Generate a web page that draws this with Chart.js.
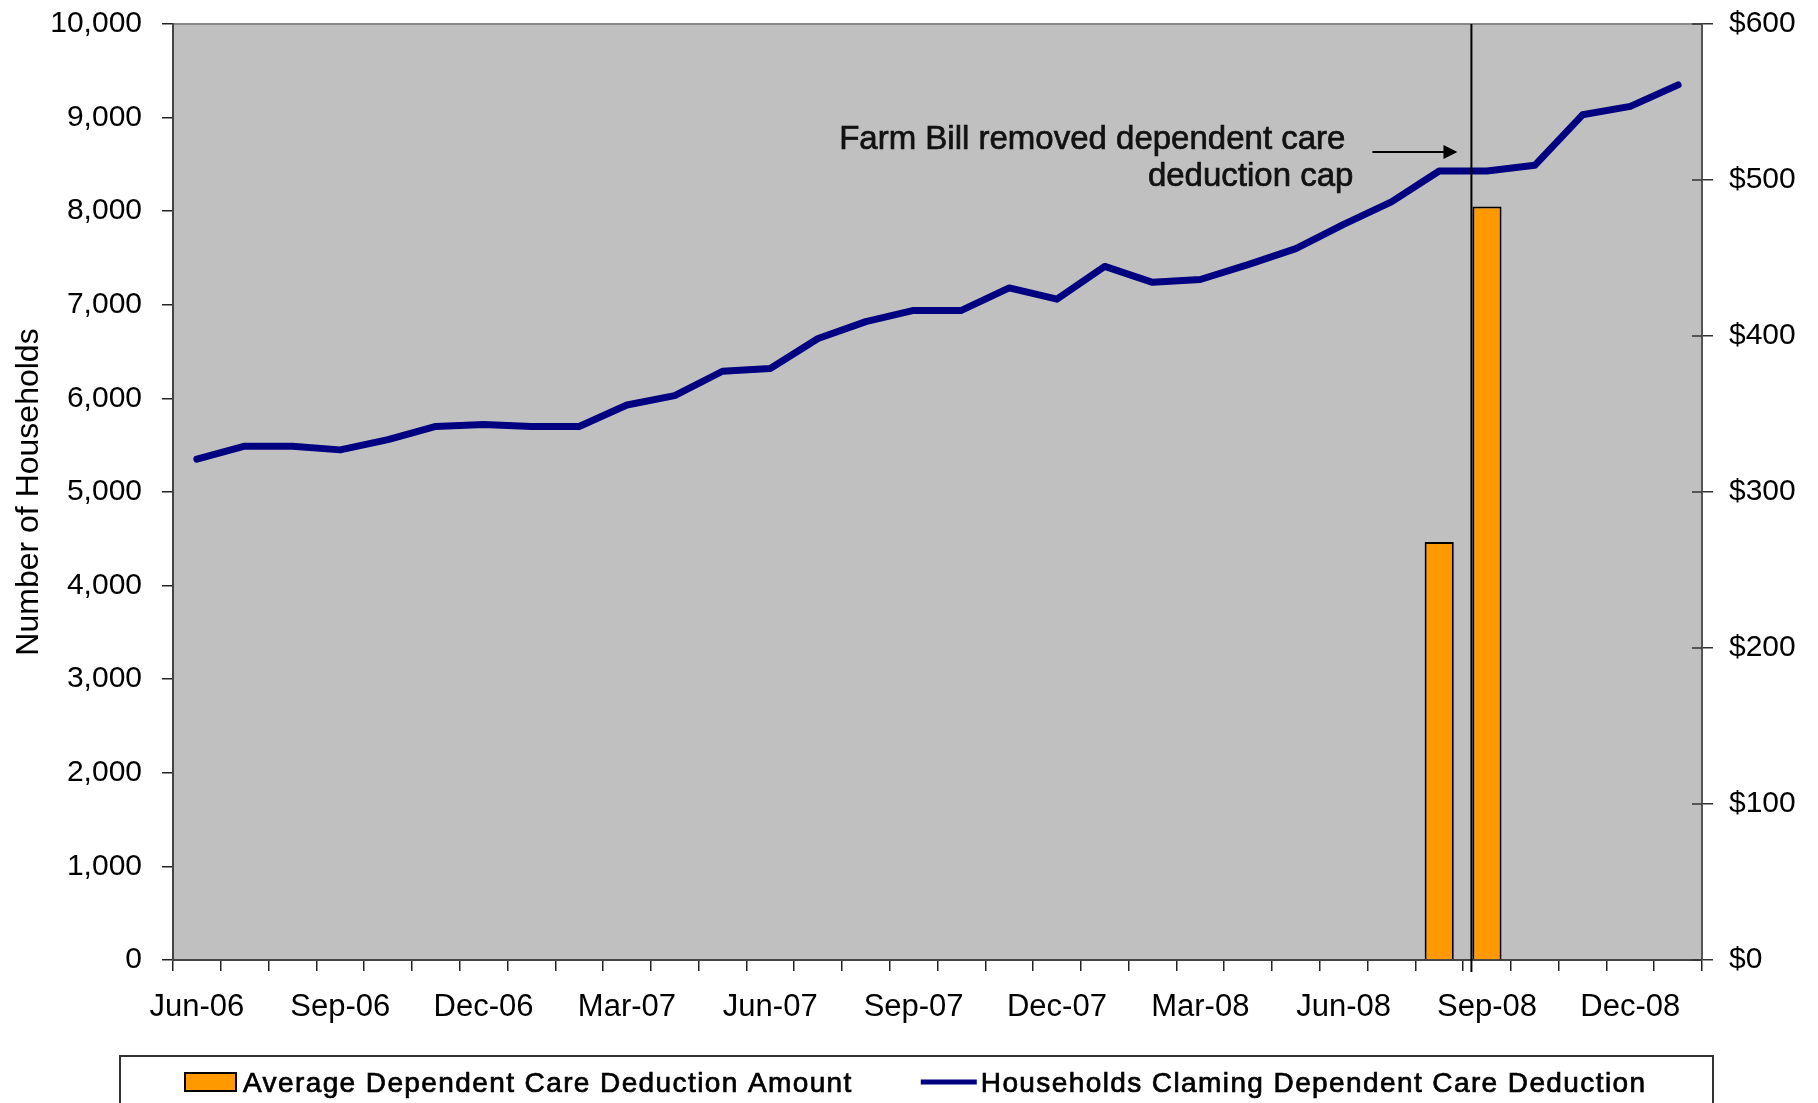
<!DOCTYPE html>
<html>
<head>
<script src="https://cdn.jsdelivr.net/npm/chart.js@4"></script>
<style>
  body { margin: 0; background: #fff; }
</style>
</head>
<body>
<canvas id="myChart" width="1818" height="1103"></canvas>
<script>
var months = ['Jun-06','Jul-06','Aug-06','Sep-06','Oct-06','Nov-06','Dec-06',
              'Jan-07','Feb-07','Mar-07','Apr-07','May-07','Jun-07','Jul-07','Aug-07','Sep-07','Oct-07','Nov-07','Dec-07',
              'Jan-08','Feb-08','Mar-08','Apr-08','May-08','Jun-08','Jul-08','Aug-08','Sep-08','Oct-08','Nov-08','Dec-08',
              'Jan-09'];
var households = [5350, 5490, 5490, 5450, 5560, 5700, 5720,
                  5700, 5700, 5930, 6030, 6290, 6320, 6640, 6820, 6940, 6940, 7180, 7060,
                  7410, 7240, 7270, 7430, 7600, 7860, 8100, 8430, 8430, 8490, 9030, 9120,
                  9350];
var avgDeduction = [null, null, null, null, null, null, null,
                    null, null, null, null, null, null, null, null, null, null, null, null,
                    null, null, null, null, null, null, null, 268, 483, null, null, null,
                    null];
var householdTicks = [0, 1000, 2000, 3000, 4000, 5000, 6000, 7000, 8000, 9000, 10000];
var dollarTicks = [0, 100, 200, 300, 400, 500, 600];
var eventMonth = 'Sep-08';
var noteLines = ['Farm Bill removed dependent care', 'deduction cap'];

var FONT = '"Liberation Sans", Arial, sans-serif';
Chart.defaults.font.family = FONT;
Chart.defaults.color = '#000';

// text with a thin outline so it reads a bit heavier
function heavyText(ctx, txt, x, y) {
    ctx.lineWidth = 0.7;
    ctx.strokeStyle = ctx.fillStyle;
    ctx.strokeText(txt, x, y);
    ctx.fillText(txt, x, y);
}

// grey plot background and top border
var plotBg = {
    id: 'plotBg',
    beforeDraw: function(chart) {
        var a = chart.chartArea, ctx = chart.ctx;
        ctx.save();
        ctx.fillStyle = '#C0C0C0';
        ctx.fillRect(a.left, a.top, a.right - a.left, a.bottom - a.top);
        ctx.strokeStyle = '#888';
        ctx.lineWidth = 2;
        ctx.beginPath();
        ctx.moveTo(a.left, a.top);
        ctx.lineTo(a.right, a.top);
        ctx.stroke();
        ctx.restore();
    }
};

// vertical marker line, arrow and note
var eventMarker = {
    id: 'eventMarker',
    afterDatasetsDraw: function(chart) {
        var a = chart.chartArea, ctx = chart.ctx;
        var idx = months.indexOf(eventMonth);
        var bar = chart.getDatasetMeta(0).data[idx];
        var x = bar.x - bar.width / 2 - 1;
        ctx.save();
        ctx.strokeStyle = '#000';
        ctx.lineWidth = 2;
        ctx.beginPath();
        ctx.moveTo(x, a.top);
        ctx.lineTo(x, a.bottom + 12);
        ctx.stroke();

        var ay = a.top + 128;
        ctx.lineWidth = 2;
        ctx.beginPath();
        ctx.moveTo(x - 99, ay);
        ctx.lineTo(x - 26, ay);
        ctx.stroke();
        ctx.fillStyle = '#000';
        ctx.beginPath();
        ctx.moveTo(x - 14, ay);
        ctx.lineTo(x - 28, ay - 7);
        ctx.lineTo(x - 28, ay + 7);
        ctx.closePath();
        ctx.fill();

        ctx.fillStyle = '#111';
        ctx.font = '33px ' + FONT;
        ctx.textAlign = 'right';
        ctx.textBaseline = 'alphabetic';
        heavyText(ctx, noteLines[0], x - 126, a.top + 125);
        heavyText(ctx, noteLines[1], x - 118, a.top + 162);
        ctx.restore();
    }
};

// right axis ticks cross into the plot
var innerTicks = {
    id: 'innerTicks',
    afterDraw: function(chart) {
        var s = chart.scales.y1, ctx = chart.ctx;
        ctx.save();
        ctx.strokeStyle = '#333';
        ctx.lineWidth = 1.5;
        s.ticks.forEach(function(t) {
            var y = s.getPixelForValue(t.value);
            ctx.beginPath();
            ctx.moveTo(s.left - 10, y);
            ctx.lineTo(s.left, y);
            ctx.stroke();
        });
        ctx.restore();
    }
};

// boxed legend under the chart
var boxLegend = {
    id: 'boxLegend',
    afterDraw: function(chart) {
        var ctx = chart.ctx;
        var ds = chart.data.datasets;
        ctx.save();
        ctx.strokeStyle = '#333';
        ctx.lineWidth = 2;
        ctx.strokeRect(120, 1056, 1593, 70);

        ctx.font = '28px ' + FONT;
        ctx.letterSpacing = '1.4px';
        ctx.textBaseline = 'alphabetic';
        ctx.textAlign = 'left';

        var x = 185, cy = 1082;
        ctx.fillStyle = ds[0].backgroundColor;
        ctx.fillRect(x, cy - 9, 51, 18);
        ctx.strokeStyle = '#000';
        ctx.lineWidth = 2;
        ctx.strokeRect(x, cy - 9, 51, 18);
        ctx.fillStyle = '#000';
        heavyText(ctx, ds[0].label, x + 58, cy + 10);
        x = x + 58 + ctx.measureText(ds[0].label).width + 68;

        ctx.strokeStyle = ds[1].borderColor;
        ctx.lineWidth = 5;
        ctx.beginPath();
        ctx.moveTo(x, cy);
        ctx.lineTo(x + 56, cy);
        ctx.stroke();
        ctx.fillStyle = '#000';
        heavyText(ctx, ds[1].label, x + 60, cy + 10);
        ctx.restore();
    }
};

function noVPad(s) { s.paddingTop = 0; s.paddingBottom = 0; }

var ctx = document.getElementById('myChart').getContext('2d');
var chart = new Chart(ctx, {
    type: 'bar',
    data: {
        labels: months,
        datasets: [{
            type: 'bar',
            label: 'Average Dependent Care Deduction Amount',
            data: avgDeduction,
            yAxisID: 'y1',
            backgroundColor: '#FF9900',
            borderColor: '#000',
            borderWidth: 2,
            categoryPercentage: 1.0,
            barPercentage: 0.61
        }, {
            type: 'line',
            label: 'Households Claming Dependent Care Deduction',
            data: households,
            yAxisID: 'y',
            borderColor: '#000080',
            borderWidth: 7,
            pointRadius: 0,
            tension: 0,
            borderJoinStyle: 'round',
            borderCapStyle: 'round'
        }]
    },
    options: {
        responsive: false,
        animation: false,
        devicePixelRatio: 1,
        layout: { padding: { top: 24, left: 0, right: 0, bottom: 0 } },
        plugins: {
            legend: { display: false },
            tooltip: { enabled: false }
        },
        scales: {
            x: {
                offset: true,
                grid: { offset: true, drawOnChartArea: false, tickLength: 11, color: '#222', lineWidth: 1.5 },
                border: { color: '#444', width: 2 },
                ticks: {
                    autoSkip: false, maxRotation: 0, padding: 18,
                    font: { size: 31 },
                    callback: function(v, i) { return i % 3 === 0 ? months[i] : ''; }
                },
                afterFit: function(s) { s.height = 143; }
            },
            y: {
                position: 'left',
                min: householdTicks[0],
                max: householdTicks[householdTicks.length - 1],
                afterBuildTicks: function(s) { s.ticks = householdTicks.map(function(v) { return { value: v }; }); },
                grid: { drawOnChartArea: false, tickLength: 11, color: '#222', lineWidth: 1.5 },
                border: { color: '#444', width: 2 },
                ticks: {
                    padding: 20,
                    font: { size: 30 },
                    callback: function(v) { return v.toLocaleString('en-US'); }
                },
                title: { display: true, text: 'Number of Households', font: { size: 32 }, padding: { top: 10, bottom: 0 } },
                afterFit: function(s) { s.width = 173; noVPad(s); }
            },
            y1: {
                position: 'right',
                min: dollarTicks[0],
                max: dollarTicks[dollarTicks.length - 1],
                afterBuildTicks: function(s) { s.ticks = dollarTicks.map(function(v) { return { value: v }; }); },
                grid: { drawOnChartArea: false, tickLength: 11, color: '#333', lineWidth: 1.5 },
                border: { color: '#555', width: 2 },
                ticks: {
                    padding: 16,
                    font: { size: 30 },
                    callback: function(v) { return '$' + v; }
                },
                afterFit: function(s) { s.width = 116; noVPad(s); }
            }
        }
    },
    plugins: [plotBg, eventMarker, innerTicks, boxLegend]
});
</script>
</body>
</html>
